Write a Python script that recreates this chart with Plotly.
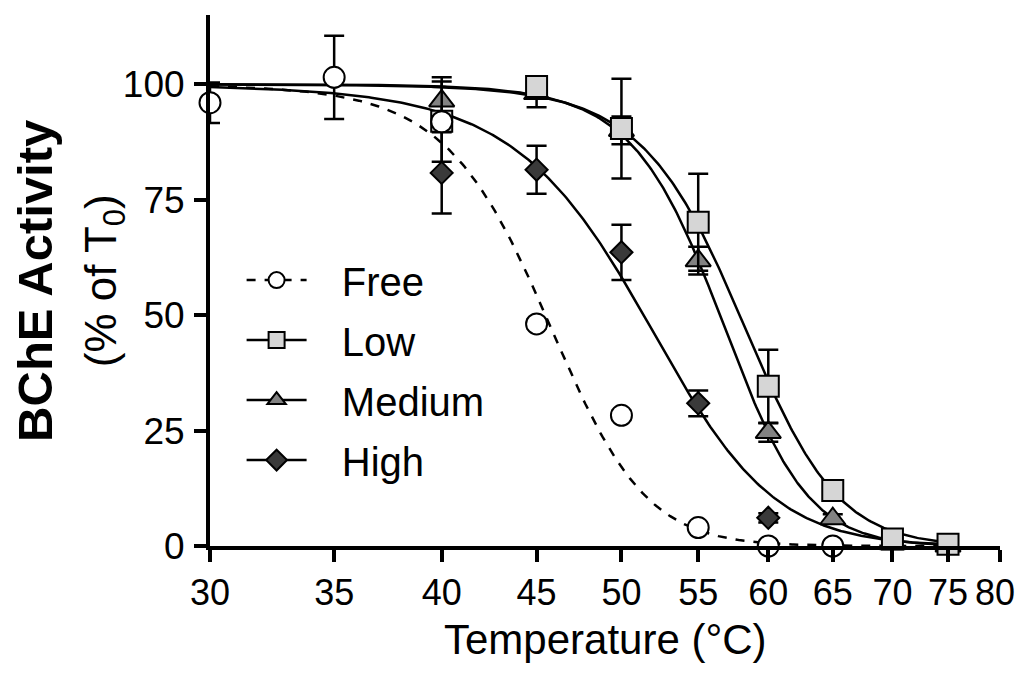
import numpy as np
import plotly.graph_objects as go

FONT = "Liberation Sans, Arial, sans-serif"

# ---- data ----
temps_free = [30, 35, 40, 45, 50, 55, 60, 65]
free_y = [96.0, 101.5, 91.9, 48.1, 28.3, 4.0, 0.0, 0.0]
free_err = [4.4, 9.0, 8.7, 1.0, 1.0, 0.5, 0.0, 0.0]

temps_low = [40, 45, 50, 55, 60, 65, 70, 75]
low_y = [92.0, 99.5, 90.4, 70.1, 34.6, 12.0, 1.5, 0.4]
low_err = [1.5, 1.5, 10.8, 10.5, 7.9, 1.0, 0.5, 0.3]

temps_med = [40, 45, 50, 55, 60, 65, 70, 75]
med_y = [96.4, 98.0, 90.0, 61.8, 24.6, 5.9, 0.5, 0.0]
med_err = [5.1, 3.0, 3.0, 3.0, 2.0, 1.0, 0.5, 0.0]

temps_high = [40, 45, 50, 55, 60]
high_y = [80.8, 81.5, 63.6, 30.9, 6.1]
high_err = [8.8, 5.2, 6.0, 2.8, 1.0]

# sigmoidal fit parameters (T50, slope)
fit_params = {
    "Free": (45.5, 2.85),
    "Low": (57.9, 3.55),
    "Medium": (56.5, 3.10),
    "High": (51.4, 4.20),
}
fit_range = (30, 75)

x_ticks = [30, 35, 40, 45, 50, 55, 60, 65, 70, 75, 80]
x_tick_labels = ["30", "35", "40", "45", "50", "55", "60", "65", "70", "75", "80\u00a0"]
y_ticks = [0, 25, 50, 75, 100]

# ---- styles ----
styles = {
    "Free": dict(symbol="circle", color="white", size=21, dash="dash"),
    "Low": dict(symbol="square", color="#d6d6d6", size=21, dash="solid"),
    "Medium": dict(symbol="triangle-up", color="#828282", size=22, dash="solid"),
    "High": dict(symbol="diamond", color="#3a3a3a", size=17, dash="solid"),
}

fig = go.Figure()

xs = np.linspace(fit_range[0], fit_range[1], 400)
for name in ["Free", "Low", "Medium", "High"]:
    t50, k = fit_params[name]
    ys = 100.0 / (1.0 + np.exp((xs - t50) / k))
    fig.add_trace(go.Scatter(x=xs, y=ys, mode="lines", showlegend=False,
                             line=dict(color="black", width=2.5, dash=styles[name]["dash"]),
                             hoverinfo="skip", cliponaxis=False))

series = [
    ("High", temps_high, high_y, high_err),
    ("Medium", temps_med, med_y, med_err),
    ("Low", temps_low, low_y, low_err),
    ("Free", temps_free, free_y, free_err),
]
for name, tx, ty, te in series:
    st = styles[name]
    fig.add_trace(go.Scatter(
        x=tx, y=ty, mode="markers", showlegend=False, cliponaxis=False,
        marker=dict(symbol=st["symbol"], size=st["size"], color=st["color"],
                    line=dict(color="black", width=2)),
        error_y=dict(type="data", array=te, visible=True, color="black",
                     thickness=2.5, width=10),
    ))

# legend entries
NB = "\u00a0\u00a0\u2009"
for name in ["Free", "Low", "Medium", "High"]:
    st = styles[name]
    fig.add_trace(go.Scatter(
        x=[None], y=[None], mode="lines+markers", name=NB + name, legendgroup=name,
        line=dict(color="black", width=2.5, dash=st["dash"]),
        marker=dict(symbol=st["symbol"], size=st["size"], color=st["color"],
                    line=dict(color="black", width=2)),
    ))

axis_common = dict(showline=True, linewidth=4, linecolor="black", ticks="outside",
                   ticklen=12, tickwidth=4, tickcolor="black", showgrid=False,
                   zeroline=False, mirror=False, automargin=False)

# page body has an 8px margin, so the figure is sized to fit the window
fig.update_layout(
    width=1008, height=661,
    margin=dict(l=202, r=16, t=7, b=123, autoexpand=False),
    paper_bgcolor="white", plot_bgcolor="white",
    font=dict(family=FONT, color="black"),
    xaxis=dict(type="log", range=[np.log10(30), np.log10(80)],
               tickvals=x_ticks, ticktext=x_tick_labels,
               tickfont=dict(size=36, family=FONT, color="black"),
               ticklabelstandoff=0, ticklabeloverflow="allow", **axis_common),
    yaxis=dict(range=[0, 115], tickvals=y_ticks, ticktext=[str(v) for v in y_ticks],
               tickfont=dict(size=37, family=FONT, color="black"),
               ticklabelstandoff=2, **axis_common),
    legend=dict(x=0.04, y=0.562, xanchor="left", yanchor="top",
                font=dict(size=40, family=FONT, color="black"),
                bgcolor="rgba(0,0,0,0)", itemwidth=60, tracegroupgap=5,
                traceorder="grouped"),
    annotations=[
        dict(text="Temperature (°C)", xref="paper", yref="paper", x=0.5, y=-0.177,
             xanchor="center", yanchor="middle", showarrow=False,
             font=dict(size=42, family=FONT, color="black")),
        dict(text="<b>BChE Activity</b><br><span style='font-size:44px'>(% of T<sub>0</sub>)</span>",
             xref="paper", yref="paper", x=-0.178, y=0.5, xanchor="center", yanchor="middle",
             textangle=-90, showarrow=False,
             font=dict(size=49, family=FONT, color="black")),
    ],
)

fig.write_html("out.html")
